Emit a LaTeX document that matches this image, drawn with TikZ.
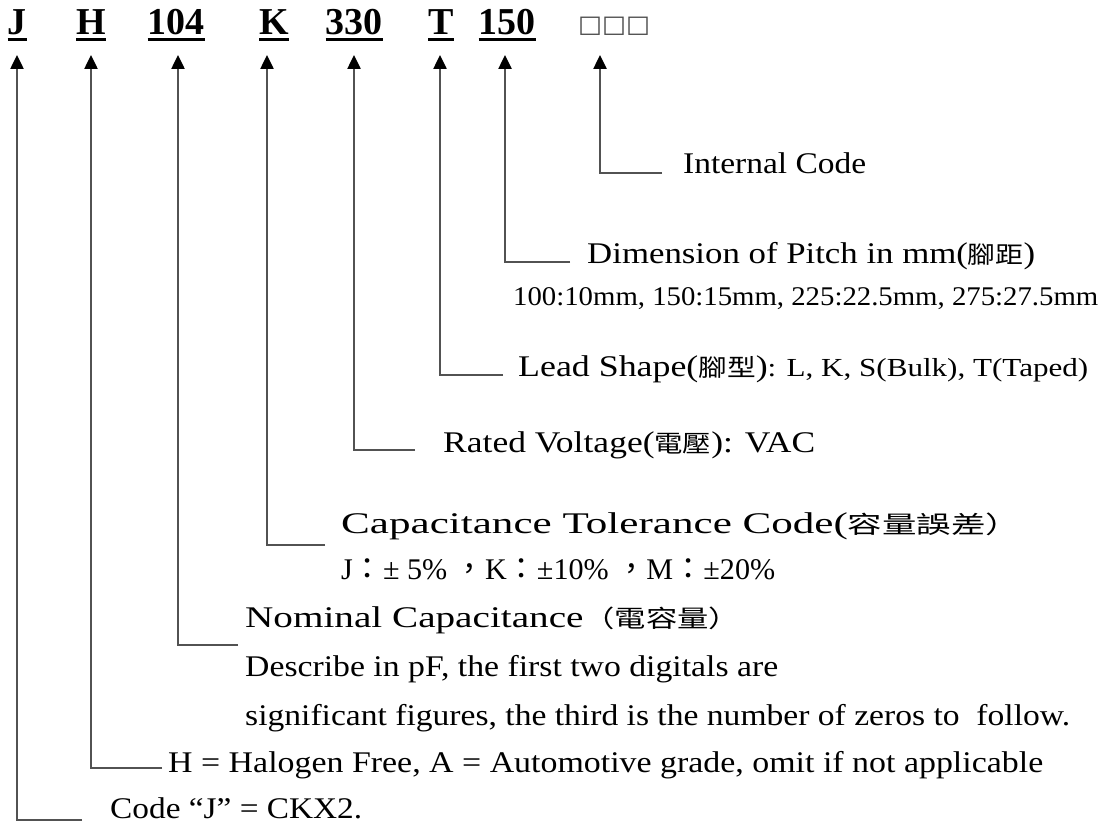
\documentclass[tikz,border=0pt]{standalone}
\usepackage{fontspec}
\usepackage{graphicx}
\usepackage{xcolor}
\usepackage{tikz}
\usetikzlibrary{arrows.meta}
\setmainfont{Liberation Serif}
\newfontfamily\cjk{Noto Sans CJK TC}
\newfontfamily\symfont{DejaVu Sans}
% stretch or squeeze a text to a given width, height kept
\newcommand\fitw[2]{\resizebox{#1}{\height}{#2}}
% bold code letter with a thick underline
\newcommand\ulcode[1]{\setbox0\hbox{#1}\rlap{\rule[-6.5pt]{\wd0}{3pt}}\box0}

\tikzset{
  code/.style={anchor=base, inner sep=0pt, font=\fontsize{38}{44}\selectfont\bfseries},
  desc/.style={anchor=base west, inner sep=0pt, font=\fontsize{30}{36}\selectfont},
  small/.style={anchor=base west, inner sep=0pt, font=\fontsize{27}{32}\selectfont},
  lead/.style={draw=black!68, line width=2.5pt, -{Triangle[width=13pt,length=14pt,black]}},
}

\begin{document}
\begin{tikzpicture}[x=1pt, y=-1pt]%
\useasboundingbox (0,0) rectangle (1102,824);%
% code letters
\node[code] (cJ) at (17,35) {\ulcode{J}};%
\node[code] (cH) at (91,35) {\ulcode{H}};%
\node[code] (cCap) at (176,35) {\ulcode{104}};%
\node[code] (cK) at (274,35) {\ulcode{K}};%
\node[code] (cV) at (354,35) {\ulcode{330}};%
\node[code] (cT) at (441,35) {\ulcode{T}};%
\node[code] (cP) at (507,35) {\ulcode{150}};%
\node[anchor=base, inner sep=0pt, text=black!70] (cInt) at (614,33) {\fitw{72pt}{\fontsize{24}{28}\symfont □□□}};%
\coordinate (tipline) at (0,55);%
% descriptions
\node[desc] (dInt) at (683,173) {\fitw{183pt}{Internal Code}};%
\node[desc] (dP) at (587,263) {\fitw{448pt}{Dimension of Pitch in mm({\cjk\fontsize{24}{28}\selectfont 腳距})}};%
\node[small] (dP2) at (513,305) {\fitw{585pt}{100:10mm, 150:15mm, 225:22.5mm, 275:27.5mm}};%
\node[desc] (dT) at (518,376) {\fitw{570pt}{Lead Shape({\cjk\fontsize{24}{28}\selectfont 腳型}){\fontsize{26}{30}\selectfont: L, K, S(Bulk), T(Taped)}}};%
\node[desc] (dV) at (443,452) {\fitw{372pt}{Rated Voltage({\cjk\fontsize{24}{28}\selectfont 電壓}): VAC}};%
\node[desc] (dK) at (341,533) {\fitw{679pt}{Capacitance Tolerance Code({\cjk\fontsize{24}{28}\selectfont 容量誤差）}}};%
\node[desc] (dK2) at (341,579) {\fitw{434pt}{J{\cjk ：}± 5\%\ {\cjk ，}K{\cjk ：}±10\%\ {\cjk ，}M{\cjk ：}±20\%}};%
\node[desc] (dCap) at (245,627) {\fitw{495pt}{Nominal Capacitance{\cjk\fontsize{24}{28}\selectfont （電容量）}}};%
\node[desc] (dCap2) at (245,676) {\fitw{533pt}{Describe in pF, the first two digitals are}};%
\node[desc] (dCap3) at (245,725) {\fitw{825pt}{significant figures, the third is the number of zeros to\ \ follow.}};%
\node[desc] (dH) at (168,772) {\fitw{875pt}{H = Halogen Free, A = Automotive grade, omit if not applicable}};%
\node[desc] (dJ) at (110,818) {\fitw{252pt}{Code “J” = CKX2.}};%
% ends of the leader lines
\coordinate (hInt) at (662,173);%
\coordinate (hP) at (570,262);%
\coordinate (hT) at (503,375);%
\coordinate (hV) at (415,450);%
\coordinate (hK) at (325,545);%
\coordinate (hCap) at (238,645);%
\coordinate (hH) at (162,768);%
\coordinate (hJ) at (82,820);%
% leader lines
\draw[lead] (hInt) -| ([xshift=-14pt]cInt.south |- tipline);%
\draw[lead] (hP) -| ([xshift=-2pt]cP.south |- tipline);%
\draw[lead] (hT) -| ([xshift=-1pt]cT.south |- tipline);%
\draw[lead] (hV) -| (cV.south |- tipline);%
\draw[lead] (hK) -| ([xshift=-7pt]cK.south |- tipline);%
\draw[lead] (hCap) -| ([xshift=2pt]cCap.south |- tipline);%
\draw[lead] (hH) -| (cH.south |- tipline);%
\draw[lead] (hJ) -| (cJ.south |- tipline);%
\end{tikzpicture}
\end{document}
